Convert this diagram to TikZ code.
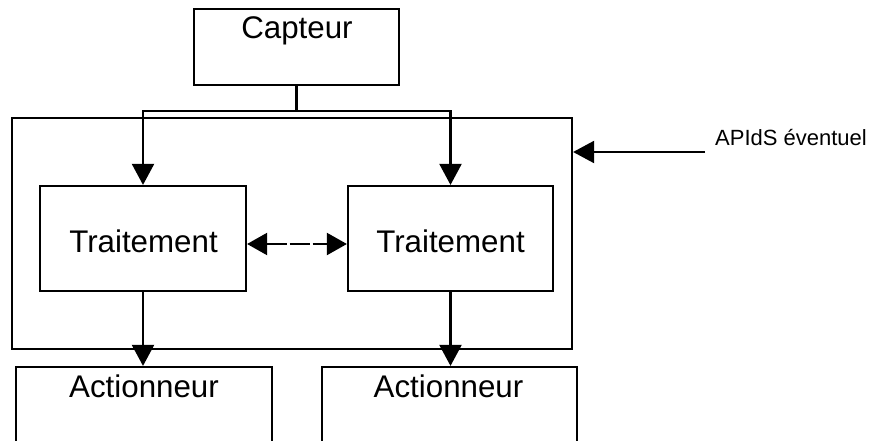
\documentclass[tikz,border=0pt]{standalone}
\usepackage{fontspec}
\setmainfont{Liberation Sans}
\usetikzlibrary{arrows.meta}
\begin{document}
\begin{tikzpicture}[x=1pt,y=-1pt,
  box/.style={draw,line width=2.2pt,rectangle,inner sep=0pt},
  big/.style={font=\fontsize{31.3}{31.3}\selectfont,inner sep=0pt},
  small/.style={font=\fontsize{22}{22}\selectfont,inner sep=0pt},
  arr/.style={line width=2.2pt,-{Triangle[length=21pt,width=22pt]}},
  darr/.style={line width=2pt,{Triangle[length=20pt,width=22pt]}-{Triangle[length=20pt,width=22pt]},dash pattern=on 20pt off 3pt}]
\useasboundingbox (0,0) rectangle (874,441);
\clip (0,0) rectangle (874,441);
% boxes
\node[box,minimum width=205pt,minimum height=76pt] (cap) at (296.5,47) {};
\node[box,minimum width=560pt,minimum height=231pt] (apids) at (292,233.5) {};
\node[box,minimum width=206pt,minimum height=105pt] (t1) at (143,238.5) {};
\node[box,minimum width=205pt,minimum height=105pt] (t2) at (450.5,238.5) {};
\node[box,minimum width=256pt,minimum height=120pt] (act1) at (144,427) {};
\node[box,minimum width=255pt,minimum height=120pt] (act2) at (449.5,427) {};
% texts
\node[big,anchor=base] (capT) at (297,38.5) {Capteur};
\node[big,anchor=base] (t1T) at (143.5,252.8) {Traitement};
\node[big,anchor=base] (t2T) at (450.5,252.8) {Traitement};
\node[big,anchor=base] (a1T) at (144,397) {Actionneur};
\node[big,anchor=base] (a2T) at (448.5,397) {Actionneur};
\node[small,anchor=base west] (apT) at (715,145) {APIdS éventuel};
% connectors
\draw[line width=2.2pt] (cap.south) -- ++(0,25) coordinate (j);
\draw[arr] (j) -| (t1.north);
\draw[arr] (j) -| (t2.north);
\draw[arr] (t1.south) -- (t1.south |- act1.north);
\draw[arr] (t2.south) -- (t2.south |- act2.north);
\draw[darr] (t1.east |- 0,244) -- (t2.west |- 0,244);
\coordinate (ap) at (705,152);
\draw[arr] (ap) -- (ap -| apids.east);
\end{tikzpicture}
\end{document}
